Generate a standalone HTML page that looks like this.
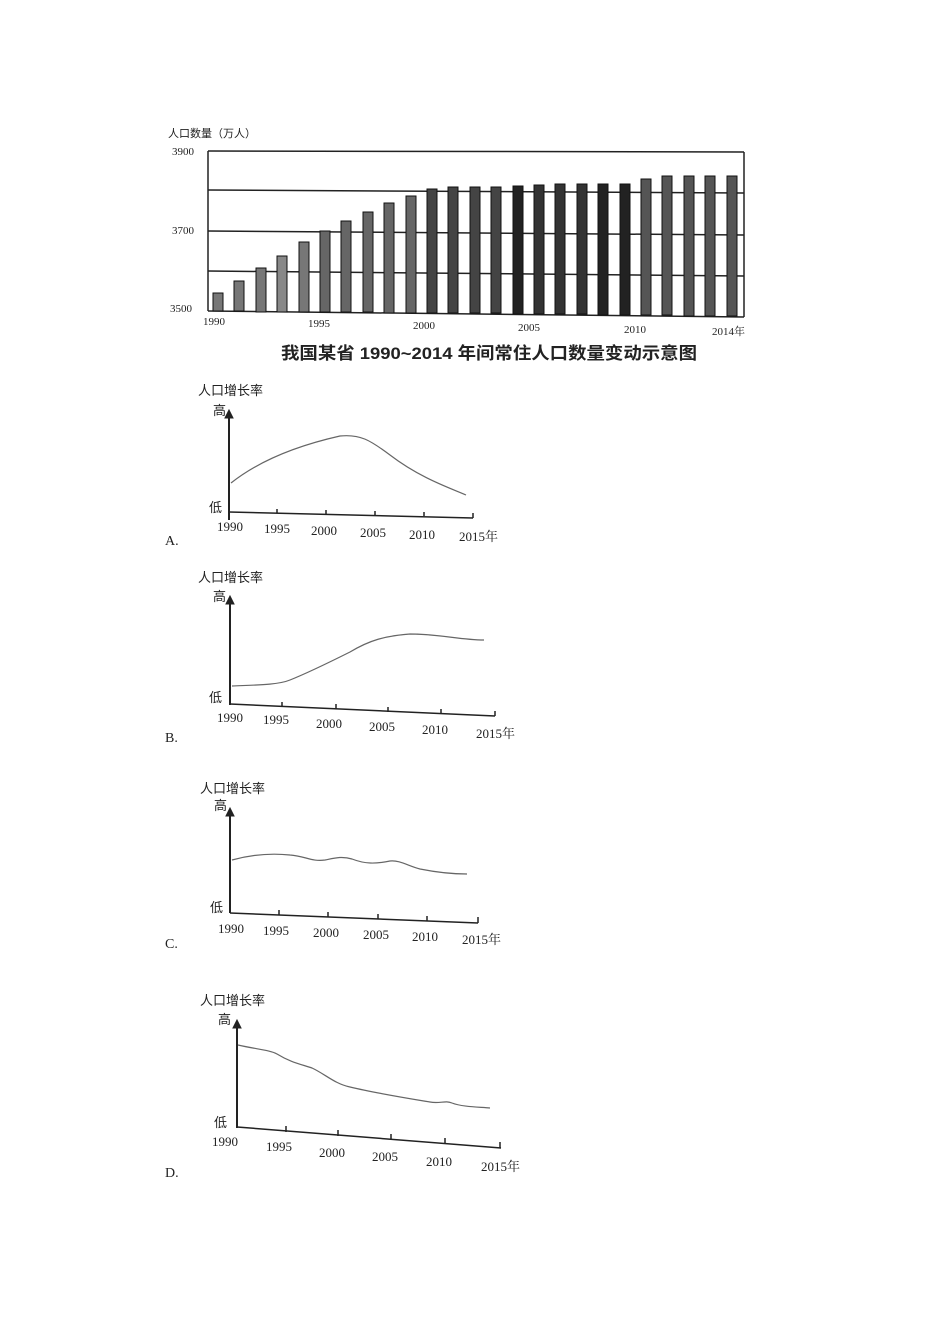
<!DOCTYPE html>
<html><head><meta charset="utf-8"><style>
body{margin:0;background:#fff;width:950px;height:1344px;overflow:hidden}
svg{display:block}
text{font-family:"Liberation Serif","Noto Serif CJK SC",serif;fill:#222}
.c{font-family:"Liberation Sans","Noto Sans CJK SC",sans-serif}
</style></head><body>
<svg width="950" height="1344" viewBox="0 0 950 1344">
<!-- Top bar chart -->
<text x="168" y="137" font-size="11" class="c">人口数量（万人）</text>
<g stroke="#222" stroke-width="1.5" fill="none">
<line x1="208" y1="151" x2="744" y2="152"/>
<line x1="208" y1="190" x2="744" y2="193"/>
<line x1="208" y1="231" x2="744" y2="235"/>
<line x1="208" y1="271" x2="744" y2="276"/>
<line x1="208" y1="311" x2="744" y2="317"/>
<line x1="208" y1="151" x2="208" y2="311"/>
<line x1="744" y1="152" x2="744" y2="317"/>
</g>
<g stroke="#111" stroke-width="1">
<rect x="213" y="293" width="10" height="18" fill="#777"/>
<rect x="234" y="281" width="10" height="30" fill="#777"/>
<rect x="256" y="268" width="10" height="44" fill="#777"/>
<rect x="277" y="256" width="10" height="56" fill="#888"/>
<rect x="299" y="242" width="10" height="70" fill="#777"/>
<rect x="320" y="231" width="10" height="81" fill="#666"/>
<rect x="341" y="221" width="10" height="91" fill="#666"/>
<rect x="363" y="212" width="10" height="100" fill="#666"/>
<rect x="384" y="203" width="10" height="110" fill="#666"/>
<rect x="406" y="196" width="10" height="117" fill="#666"/>
<rect x="427" y="189" width="10" height="124" fill="#444"/>
<rect x="448" y="187" width="10" height="126" fill="#444"/>
<rect x="470" y="187" width="10" height="126" fill="#444"/>
<rect x="491" y="187" width="10" height="126" fill="#444"/>
<rect x="513" y="186" width="10" height="128" fill="#222"/>
<rect x="534" y="185" width="10" height="129" fill="#333"/>
<rect x="555" y="184" width="10" height="130" fill="#333"/>
<rect x="577" y="184" width="10" height="130" fill="#333"/>
<rect x="598" y="184" width="10" height="131" fill="#222"/>
<rect x="620" y="184" width="10" height="131" fill="#222"/>
<rect x="641" y="179" width="10" height="136" fill="#555"/>
<rect x="662" y="176" width="10" height="139" fill="#555"/>
<rect x="684" y="176" width="10" height="140" fill="#555"/>
<rect x="705" y="176" width="10" height="140" fill="#555"/>
<rect x="727" y="176" width="10" height="140" fill="#555"/>
</g>
<g font-size="11">
<text x="172" y="155">3900</text>
<text x="172" y="234">3700</text>
<text x="170" y="312">3500</text>
<text x="203" y="325">1990</text>
<text x="308" y="327">1995</text>
<text x="413" y="329">2000</text>
<text x="518" y="331">2005</text>
<text x="624" y="333">2010</text>
<text x="712" y="335">2014年</text>
</g>
<text x="281" y="359" font-size="17" font-weight="bold" class="c" textLength="416" lengthAdjust="spacingAndGlyphs">我国某省 1990~2014 年间常住人口数量变动示意图</text>

<!-- A -->
<g font-size="13">
<text x="198" y="395" class="c" font-size="13">人口增长率</text>
<text x="213" y="415" class="c">高</text>
<text x="209" y="512" class="c">低</text>
<text x="217" y="531">1990</text><text x="264" y="533">1995</text><text x="311" y="535">2000</text><text x="360" y="537">2005</text><text x="409" y="539">2010</text><text x="459" y="541">2015年</text>
<text x="165" y="545" font-size="14">A.</text>
</g>
<g stroke="#222" fill="none">
<line x1="229" y1="520" x2="229" y2="412" stroke-width="2"/><path d="M225,418 L229,410 L233,418Z" fill="#222"/>
<line x1="229" y1="512" x2="473" y2="518" stroke-width="1.5"/>
<path d="M277,509v4 M326,510v4 M375,511v4 M424,512v4 M473,513v5" stroke-width="1.5"/>
<path d="M231,483 C260,460 300,445 340,436 C360,434 370,440 390,455 C420,478 450,488 466,495" stroke="#666" stroke-width="1.2"/>
</g>

<!-- B -->
<g font-size="13">
<text x="198" y="582" class="c">人口增长率</text>
<text x="213" y="601" class="c">高</text>
<text x="209" y="702" class="c">低</text>
<text x="217" y="722">1990</text><text x="263" y="724">1995</text><text x="316" y="728">2000</text><text x="369" y="731">2005</text><text x="422" y="734">2010</text><text x="476" y="738">2015年</text>
<text x="165" y="742" font-size="14">B.</text>
</g>
<g stroke="#222" fill="none">
<line x1="230" y1="705" x2="230" y2="598" stroke-width="2"/><path d="M226,604 L230,596 L234,604Z" fill="#222"/>
<line x1="230" y1="704" x2="495" y2="716" stroke-width="1.5"/>
<path d="M282,702v5 M336,704v5 M388,707v5 M441,709v5 M495,711v5" stroke-width="1.5"/>
<path d="M232,686 C255,685 278,685 290,680 C310,672 330,662 350,652 C370,640 385,636 410,634 C440,634 460,640 484,640" stroke="#666" stroke-width="1.2"/>
</g>

<!-- C -->
<g font-size="13">
<text x="200" y="793" class="c">人口增长率</text>
<text x="214" y="810" class="c">高</text>
<text x="210" y="912" class="c">低</text>
<text x="218" y="933">1990</text><text x="263" y="935">1995</text><text x="313" y="937">2000</text><text x="363" y="939">2005</text><text x="412" y="941">2010</text><text x="462" y="944">2015年</text>
<text x="165" y="948" font-size="14">C.</text>
</g>
<g stroke="#222" fill="none">
<line x1="230" y1="913" x2="230" y2="810" stroke-width="2"/><path d="M226,816 L230,808 L234,816Z" fill="#222"/>
<line x1="230" y1="913" x2="478" y2="923" stroke-width="1.5"/>
<path d="M279,910v5 M328,912v5 M378,914v5 M427,916v5 M478,917v6" stroke-width="1.5"/>
<path d="M232,860 C250,855 270,853 290,855 C305,856 312,862 325,860 C335,858 342,856 352,859 C365,864 375,864 390,861 C400,860 408,866 420,869 C440,873 455,874 467,874" stroke="#666" stroke-width="1.2"/>
</g>

<!-- D -->
<g font-size="13">
<text x="200" y="1005" class="c">人口增长率</text>
<text x="218" y="1024" class="c">高</text>
<text x="214" y="1127" class="c">低</text>
<text x="212" y="1146">1990</text><text x="266" y="1151">1995</text><text x="319" y="1157">2000</text><text x="372" y="1161">2005</text><text x="426" y="1166">2010</text><text x="481" y="1171">2015年</text>
<text x="165" y="1177" font-size="14">D.</text>
</g>
<g stroke="#222" fill="none">
<line x1="237" y1="1128" x2="237" y2="1022" stroke-width="2"/><path d="M233,1028 L237,1020 L241,1028Z" fill="#222"/>
<line x1="237" y1="1127" x2="501" y2="1148" stroke-width="1.5"/>
<path d="M286,1126v6 M338,1130v6 M391,1134v6 M445,1138v6 M500,1142v6" stroke-width="1.5"/>
<path d="M238,1045 C255,1049 270,1050 277,1054 C290,1062 300,1064 312,1068 C325,1074 335,1084 350,1087 C375,1093 400,1097 430,1102 C440,1104 445,1100 452,1103 C462,1107 480,1107 490,1108" stroke="#666" stroke-width="1.2"/>
</g>
</svg>
</body></html>
